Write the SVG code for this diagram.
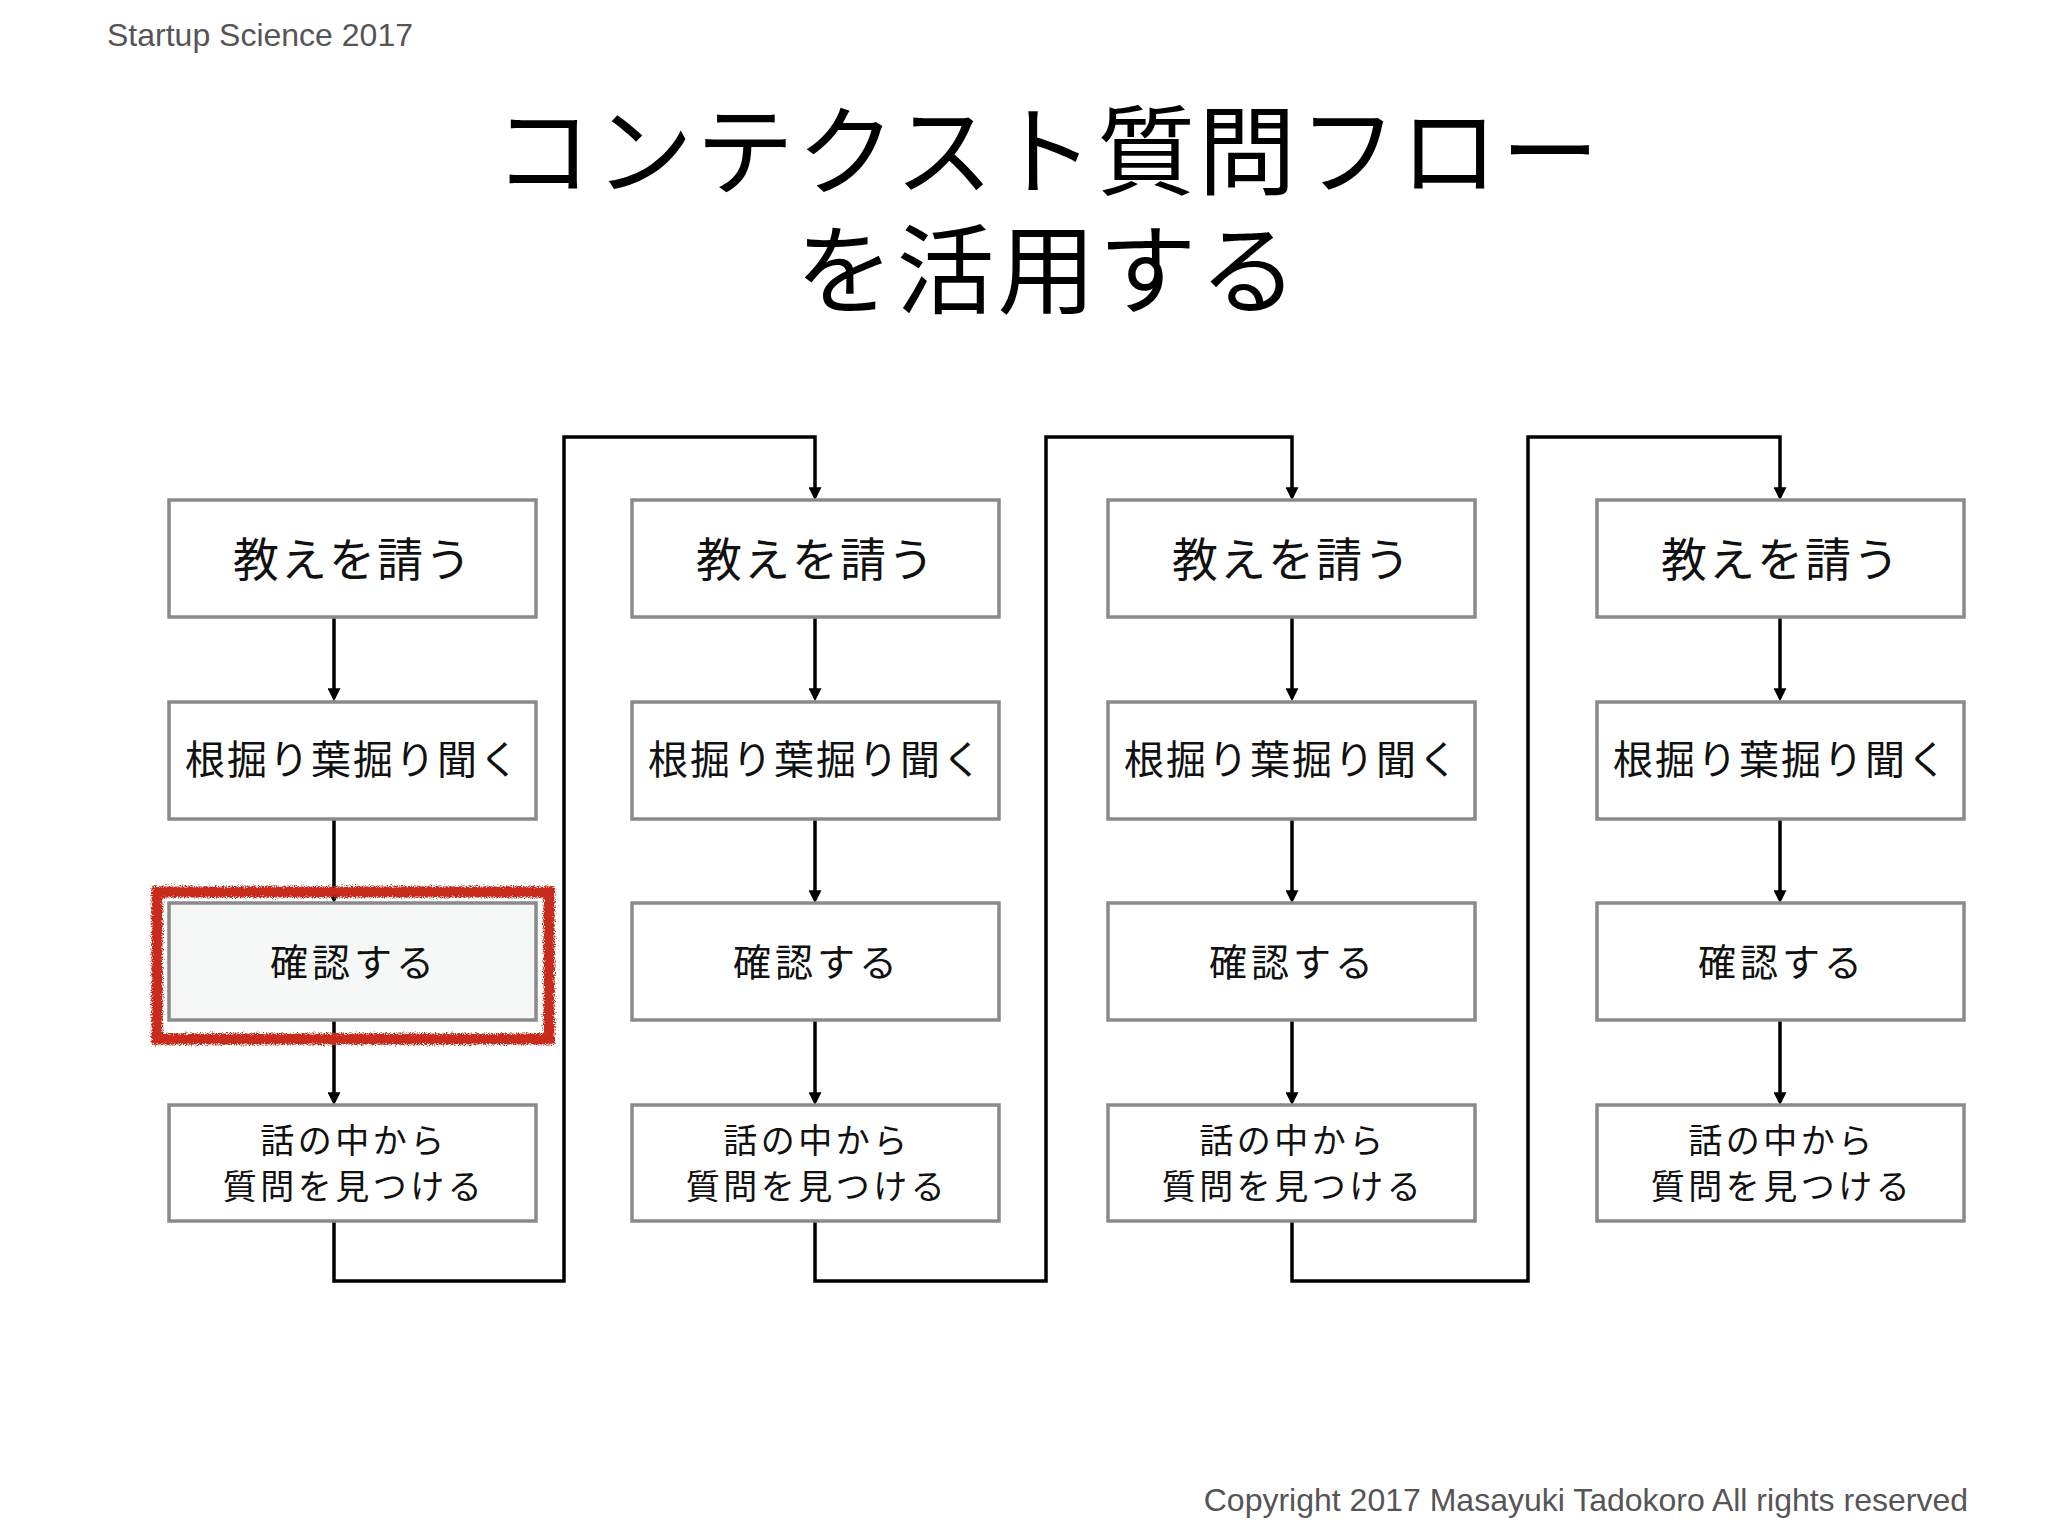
<svg xmlns="http://www.w3.org/2000/svg" width="2048" height="1536" viewBox="0 0 2048 1536">
<style>
.box{fill:#fff;stroke:#8a8a8a;stroke-width:3.5}
.hl{fill:#f6f8f8}
.t{font-family:"Noto Sans CJK JP","Noto Sans",sans-serif;fill:#111;text-anchor:middle}
.r1{font-size:46px;letter-spacing:2px}
.r2{font-size:40px;letter-spacing:2px}
.r3{font-size:38px;letter-spacing:4px}
.r4{font-size:34px;letter-spacing:3.5px}
.title{font-family:"Noto Sans CJK JP","Noto Sans",sans-serif;font-size:98px;letter-spacing:3px;fill:#000;text-anchor:middle}
.foot{font-family:"Liberation Sans",Arial,sans-serif;fill:#555}
.ln{fill:none;stroke:#000;stroke-width:3.5}
</style>
<defs>
<marker id="arr" viewBox="0 0 12 12" refX="9" refY="6" markerWidth="13" markerHeight="13" markerUnits="userSpaceOnUse" orient="auto">
<path d="M0,0 L12,6 L0,12 z" fill="#000"/>
</marker>
<filter id="rough" x="-5%" y="-15%" width="110%" height="130%">
<feTurbulence type="fractalNoise" baseFrequency="0.9" numOctaves="2" seed="3" result="n"/>
<feDisplacementMap in="SourceGraphic" in2="n" scale="7" xChannelSelector="R" yChannelSelector="G"/>
</filter>
</defs>
<rect width="2048" height="1536" fill="#fff"/>
<text class="foot" x="107" y="46" font-size="32">Startup Science 2017</text>
<text class="foot" x="1968" y="1511" font-size="32" text-anchor="end">Copyright 2017 Masayuki Tadokoro All rights reserved</text>
<g id="title">
<text class="title" x="1048" y="187">コンテクスト質問フロー<tspan x="1048" dy="119">を活用する</tspan></text>
</g>
<g id="connectors">
<path class="ln" marker-end="url(#arr)" d="M334,617 V698"/>
<path class="ln" marker-end="url(#arr)" d="M334,819 V900"/>
<path class="ln" marker-end="url(#arr)" d="M334,1020 V1102"/>
<path class="ln" marker-end="url(#arr)" d="M815,617 V698"/>
<path class="ln" marker-end="url(#arr)" d="M815,819 V900"/>
<path class="ln" marker-end="url(#arr)" d="M815,1020 V1102"/>
<path class="ln" marker-end="url(#arr)" d="M1292,617 V698"/>
<path class="ln" marker-end="url(#arr)" d="M1292,819 V900"/>
<path class="ln" marker-end="url(#arr)" d="M1292,1020 V1102"/>
<path class="ln" marker-end="url(#arr)" d="M1780,617 V698"/>
<path class="ln" marker-end="url(#arr)" d="M1780,819 V900"/>
<path class="ln" marker-end="url(#arr)" d="M1780,1020 V1102"/>
<path class="ln" marker-end="url(#arr)" d="M334,1221 V1281 H564 V437 H815 V497"/>
<path class="ln" marker-end="url(#arr)" d="M815,1221 V1281 H1046 V437 H1292 V497"/>
<path class="ln" marker-end="url(#arr)" d="M1292,1221 V1281 H1528 V437 H1780 V497"/>
</g>
<g id="col1">
<g id="c1n1"><rect class="box" x="169" y="500" width="367" height="117"/><text class="t r1" x="353" y="576">教えを請う</text></g>
<g id="c1n2"><rect class="box" x="169" y="702" width="367" height="117"/><text class="t r2" x="353" y="774">根掘り葉掘り聞く</text></g>
<g id="c1n3"><rect class="box hl" x="169" y="903" width="367" height="117"/><text class="t r3" x="354" y="976">確認する</text></g>
<g id="c1n4"><rect class="box" x="169" y="1105" width="367" height="116"/><text class="t r4" x="354" y="1153">話の中から</text><text class="t r4" x="354" y="1199">質問を見つける</text></g>
</g>
<g id="col2">
<g id="c2n1"><rect class="box" x="632" y="500" width="367" height="117"/><text class="t r1" x="816" y="576">教えを請う</text></g>
<g id="c2n2"><rect class="box" x="632" y="702" width="367" height="117"/><text class="t r2" x="816" y="774">根掘り葉掘り聞く</text></g>
<g id="c2n3"><rect class="box" x="632" y="903" width="367" height="117"/><text class="t r3" x="817" y="976">確認する</text></g>
<g id="c2n4"><rect class="box" x="632" y="1105" width="367" height="116"/><text class="t r4" x="817" y="1153">話の中から</text><text class="t r4" x="817" y="1199">質問を見つける</text></g>
</g>
<g id="col3">
<g id="c3n1"><rect class="box" x="1108" y="500" width="367" height="117"/><text class="t r1" x="1292" y="576">教えを請う</text></g>
<g id="c3n2"><rect class="box" x="1108" y="702" width="367" height="117"/><text class="t r2" x="1292" y="774">根掘り葉掘り聞く</text></g>
<g id="c3n3"><rect class="box" x="1108" y="903" width="367" height="117"/><text class="t r3" x="1293" y="976">確認する</text></g>
<g id="c3n4"><rect class="box" x="1108" y="1105" width="367" height="116"/><text class="t r4" x="1293" y="1153">話の中から</text><text class="t r4" x="1293" y="1199">質問を見つける</text></g>
</g>
<g id="col4">
<g id="c4n1"><rect class="box" x="1597" y="500" width="367" height="117"/><text class="t r1" x="1781" y="576">教えを請う</text></g>
<g id="c4n2"><rect class="box" x="1597" y="702" width="367" height="117"/><text class="t r2" x="1781" y="774">根掘り葉掘り聞く</text></g>
<g id="c4n3"><rect class="box" x="1597" y="903" width="367" height="117"/><text class="t r3" x="1782" y="976">確認する</text></g>
<g id="c4n4"><rect class="box" x="1597" y="1105" width="367" height="116"/><text class="t r4" x="1782" y="1153">話の中から</text><text class="t r4" x="1782" y="1199">質問を見つける</text></g>
</g>
<g id="highlight">
<rect x="157" y="892" width="392" height="147" fill="none" stroke="#c8291c" stroke-width="11" filter="url(#rough)"/>
</g>
</svg>
